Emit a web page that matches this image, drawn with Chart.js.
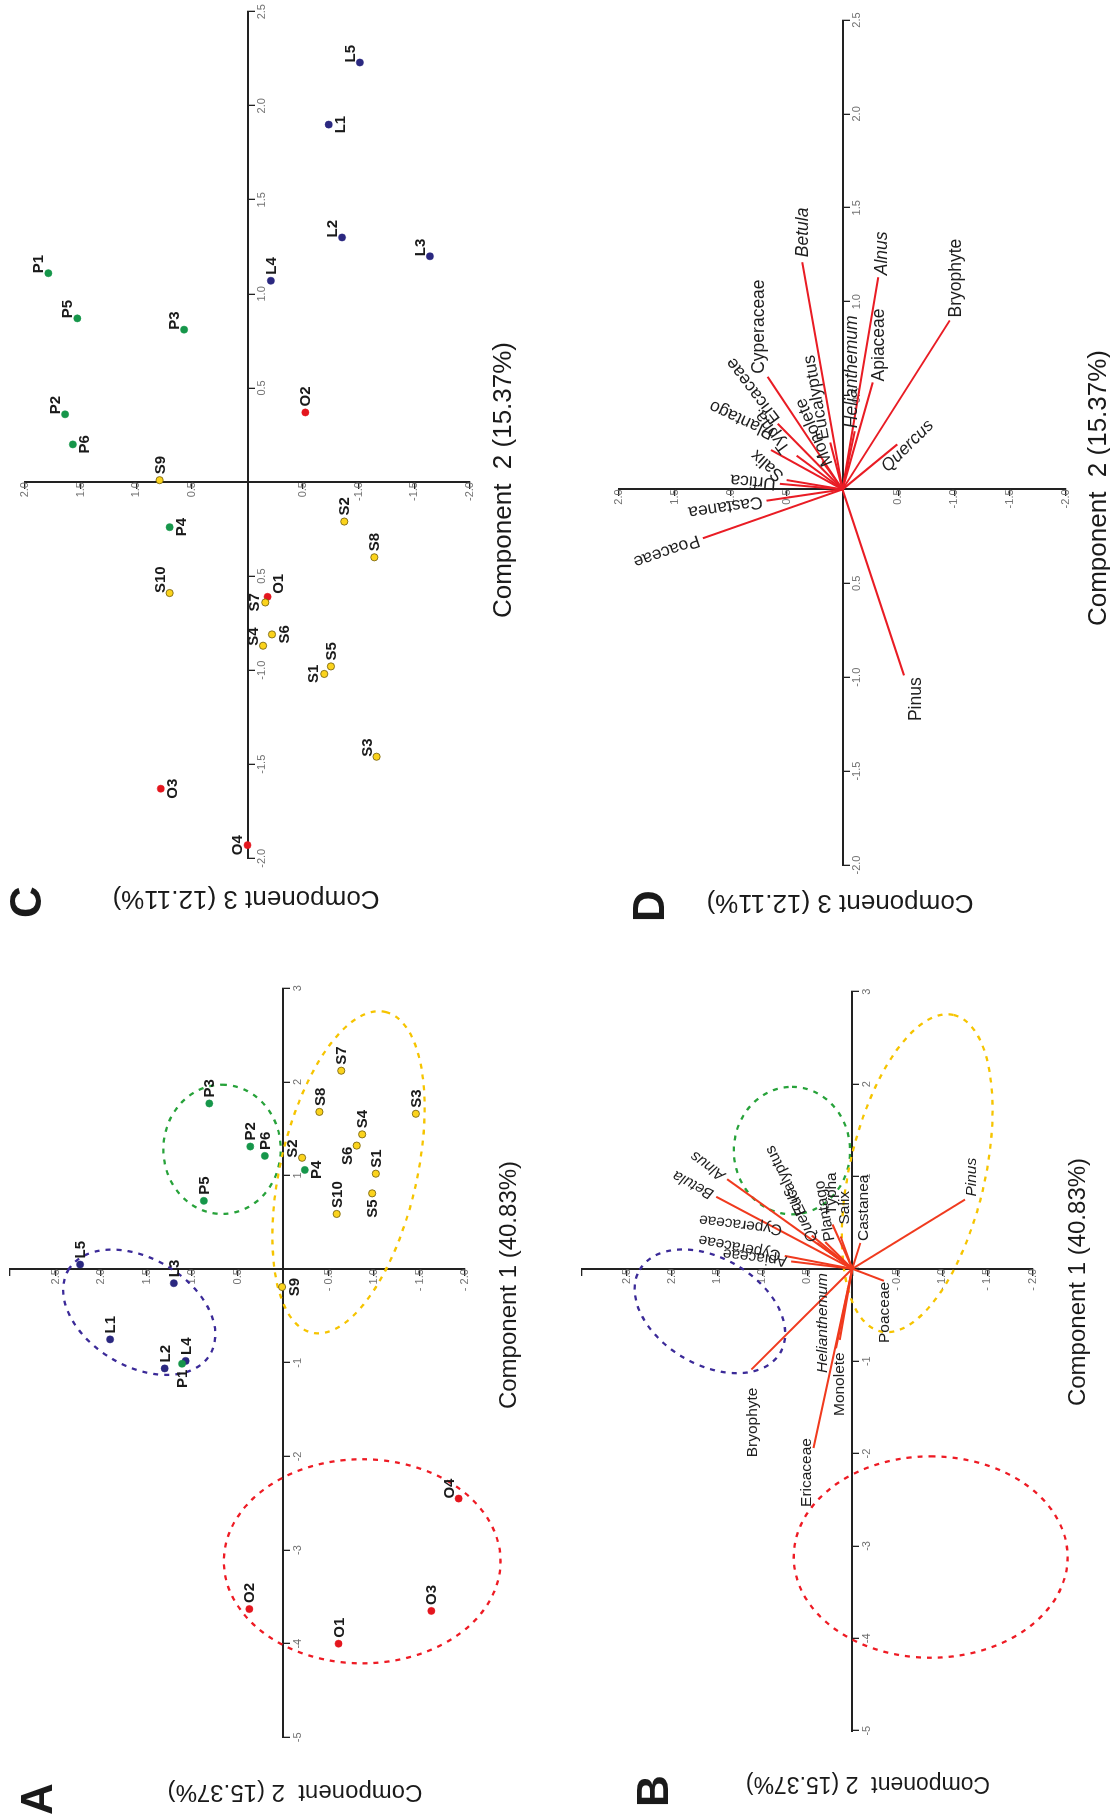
<!DOCTYPE html>
<html>
<head>
<meta charset="utf-8">
<title>PCA biplots</title>
<script src="https://cdn.jsdelivr.net/npm/chart.js@4.4.1/dist/chart.umd.min.js"></script>
<style>
  html, body { margin: 0; padding: 0; background: #fff; }
  body { width: 1110px; height: 1819px; overflow: hidden; position: relative; }
  /* the figure is laid out landscape, then turned a quarter turn to the left */
  #fig { position: absolute; left: 0; top: 0; width: 1819px; height: 1110px;
         transform-origin: 0 0; transform: translateY(1819px) rotate(-90deg);
         font-family: "Liberation Sans", Arial, Helvetica, sans-serif; color: #1a1a1a; }
  #fig canvas { position: absolute; }
  .t { position: absolute; transform: translate(-50%, -50%); white-space: pre; line-height: 1; }
  .v { transform: translate(-50%, -50%) rotate(-90deg); }
  .L { position: absolute; transform: translate(-50%, -50%); font-weight: bold; font-size: 44px; line-height: 1; }
</style>
</head>
<body>
<div id="fig">
  <canvas id="chartA" width="900" height="560" style="left:0;top:0"></canvas>
  <canvas id="chartB" width="900" height="550" style="left:0;top:560px"></canvas>
  <canvas id="chartC" width="919" height="560" style="left:900px;top:0"></canvas>
  <canvas id="chartD" width="919" height="550" style="left:900px;top:560px"></canvas>

  <div class="L" style="left:20px;top:37px">A</div>
  <div class="t" style="left:534px;top:508px;font-size:24px">Component 1 (40.83%)</div>
  <div class="t v" style="left:26px;top:295px;font-size:24px">Component  2 (15.37%)</div>

  <div class="L" style="left:28px;top:653px">B</div>
  <div class="t" style="left:537px;top:1077px;font-size:24px">Component 1 (40.83%)</div>
  <div class="t v" style="left:34px;top:868px;font-size:23px">Component  2 (15.37%)</div>

  <div class="L" style="left:917px;top:26px">C</div>
  <div class="t" style="left:1339px;top:502px;font-size:26px">Component  2 (15.37%)</div>
  <div class="t v" style="left:919px;top:246px;font-size:26px">Component 3 (12.11%)</div>

  <div class="L" style="left:913px;top:649px">D</div>
  <div class="t" style="left:1331px;top:1097px;font-size:26px">Component  2 (15.37%)</div>
  <div class="t v" style="left:915px;top:840px;font-size:26px">Component 3 (12.11%)</div>
</div>

<script>
const FONT = '"Liberation Sans", Arial, Helvetica, sans-serif';

// ---- sample scores ----
const sampleNames = ['L1','L2','L3','L4','L5','P1','P2','P3','P4','P5','P6',
  'S1','S2','S3','S4','S5','S6','S7','S8','S9','S10','O1','O2','O3','O4'];
const sampleGroup = ['L','L','L','L','L','P','P','P','P','P','P',
  'S','S','S','S','S','S','S','S','S','S','O','O','O','O'];
const comp1 = [-0.75,-1.06,-0.15,-0.98,0.05,-1.01,1.31,1.77,1.06,0.73,1.21,
  1.02,1.19,1.66,1.44,0.81,1.32,2.12,1.68,-0.19,0.59,-4.00,-3.63,-3.65,-2.45];
const comp2 = [1.90,1.30,1.20,1.07,2.23,1.11,0.36,0.81,-0.24,0.87,0.20,
  -1.02,-0.21,-1.46,-0.87,-0.98,-0.81,-0.64,-0.40,0.01,-0.59,-0.61,0.37,-1.63,-1.93];
const comp3 = [-0.73,-0.85,-1.64,-0.21,-1.01,1.79,1.64,0.57,0.70,1.53,1.57,
  -0.69,-0.87,-1.16,-0.14,-0.75,-0.22,-0.16,-1.14,0.79,0.70,-0.18,-0.52,0.78,0.00];
const groupNames = ['S','P','L','O'];

// ---- group ellipses in the Component 1 / Component 2 plane ----
const ellipseGroup = ['L','P','S','O'];
const ellipseCx = [-0.46, 1.28, 1.035, -3.12];
const ellipseCy = [1.58, 0.67, -0.72, -0.87];
const ellipseA = [0.90, 0.69, 1.76, 1.09];
const ellipseB = [0.58, 0.645, 0.75, 1.52];
const ellipseAngle = [60, 0, -13.3, 0];

// ---- variable loadings, panel B (Component 1, Component 2) ----
const bTaxa = ['Alnus','Betula','Cyperaceae','Apiaceae','Quercus','Eucalyptus','Plantago','Typha',
  'Salix','Castanea','Pinus','Poaceae','Helianthemum','Monolete','Ericaceae','Bryophyte'];
const bComp1 = [0.97,0.78,0.14,0.08,0.28,0.36,0.29,0.48,0.35,0.28,0.75,-0.13,-0.77,-0.86,-1.94,-1.09];
const bComp2 = [1.39,1.51,0.75,0.68,0.39,0.45,0.30,0.22,0.13,-0.09,-1.25,-0.35,0.14,0.18,0.43,1.12];
const bLoose = ['Cyperaceae'];
const bLooseC1 = [0.425];
const bLooseC2 = [0.78];

// ---- variable loadings, panel D (Component 2, Component 3) ----
const dTaxa = ['Betula','Alnus','Bryophyte','Cyperaceae','Apiaceae','Helianthemum','Eucalyptus','Monolete',
  'Ericaceae','Typha','Plantago','Salix','Urtica','Castanea','Poaceae','Pinus','Quercus'];
const dComp2 = [1.21,1.13,0.90,0.60,0.57,0.31,0.25,0.15,0.35,0.18,0.21,0.05,0.03,-0.06,-0.26,-0.99,0.24];
const dComp3 = [0.36,-0.32,-0.96,0.67,-0.27,-0.11,0.11,0.18,0.58,0.41,0.64,0.50,0.56,0.68,1.25,-0.55,-0.49];

// ---- styles ----
const groupColors = { L: '#2b2880', P: '#16964a', S: '#fbd31c', O: '#e4161e' };
const groupBorders = { L: '#2b2880', P: '#16964a', S: '#6e5b0c', O: '#e4161e' };
const ellipseColors = { L: '#3b2a98', P: '#27a23a', S: '#f6c400', O: '#ee1b24' };
const labelSideA = ['e','e','e','e','e','w','e','e','s','e','e',
  'e','ne','e','e','w','nw','e','e','s','e','e','e','e','ne'];
const labelSideC = ['s','ne','ne','e','ne','ne','ne','ne','s','ne','s',
  'n','e','ne','ne','e','s','n','e','e','ne','se','e','s','n'];
const bLabelStyle = [
  {a:'along', it:true}, {a:'along', it:true}, {a:'along'}, {a:'along'},
  {a:-28, dx:2, dy:-3, it:true}, {a:-26, dx:21, dy:-9}, {a:-10, dx:1, dy:5},
  {a:0, dx:10, dy:-1}, {a:0, dx:12, dy:4}, {a:0, dx:2, dy:3}, {a:0, dx:3, dy:7, it:true},
  {a:0, al:'right', dx:-1, dy:1}, {a:0, dx:-33, dy:-17, it:true}, {a:0, al:'right', dx:-4, dy:4},
  {a:0, al:'right', dx:10, dy:-7}, {a:0, al:'right', dx:-18, dy:1}
];
const dLabelStyle = [
  {a:0, dx:5, dy:1, it:true}, {a:0, dx:2, dy:4, it:true}, {a:0, dx:3, dy:6}, {a:0, dx:3, dy:-8},
  {a:0, dx:1, dy:6}, {a:0, dx:3, dy:-3, it:true}, {a:-10, dx:3, dy:-6}, {a:-23, dx:-4, dy:6},
  {a:-37, dx:2, dy:-1}, {a:-36, dx:4, dy:-10}, {a:-65, dx:16, dy:2}, {a:-48, dx:2, dy:-5},
  {a:'along'}, {a:'along'}, {a:'along'}, {a:0, al:'right', dx:-2, dy:12}, {a:45, dx:-25, dy:-13, it:true}
];
const SIDE = {
  e:  {align:'left',   base:'middle',     dx:6,  dy:1},
  w:  {align:'right',  base:'middle',     dx:-6, dy:1},
  n:  {align:'center', base:'alphabetic', dx:0,  dy:-6},
  s:  {align:'center', base:'top',        dx:0,  dy:5},
  ne: {align:'left',   base:'alphabetic', dx:0,  dy:-5},
  nw: {align:'right',  base:'alphabetic', dx:-1, dy:-5},
  se: {align:'left',   base:'top',        dx:3,  dy:4}
};

// tick label formats
const fmtInt = v => Math.abs(v) < 1e-9 ? '' : String(Math.round(v));
const fmtAB = v => {
  if (Math.abs(v) < 1e-9 || v > 2.9) return '';
  return v < 0 ? '- ' + (-v).toFixed(1) : v.toFixed(1);
};
const fmtCD = v => {
  if (Math.abs(v) < 1e-9) return '';
  if (Math.abs(v + 0.5) < 1e-9) return '0.5';
  return v.toFixed(1);
};

function axis(dir, min, max, step, fmt) {
  return {
    type: 'linear', axis: dir, min: min, max: max,
    position: dir === 'x' ? { y: 0 } : { x: 0 },
    ticks: { stepSize: step, autoSkip: false, maxRotation: 0, minRotation: 0, padding: 2,
             color: '#6f6f6f', font: { size: 11, family: FONT }, callback: fmt },
    grid: { display: true, drawOnChartArea: false, drawTicks: true, tickLength: 6,
            color: '#222', lineWidth: 1.3 },
    border: { display: true, color: '#222', width: 2 }
  };
}

function pointSets(xs, ys) {
  return groupNames.map(g => ({
    label: g,
    data: sampleNames.map((n, i) => ({ x: xs[i], y: ys[i], name: n, g: sampleGroup[i], i: i }))
                     .filter(p => p.g === g),
    backgroundColor: groupColors[g],
    borderColor: groupBorders[g],
    borderWidth: g === 'S' ? 0.8 : 0.5,
    pointRadius: 3.6
  }));
}

function arrowSets(xs, ys, color) {
  return xs.map((x, i) => ({
    label: 'arrow' + i,
    data: [{ x: 0, y: 0 }, { x: x, y: ys[i] }],
    showLine: true, borderColor: color, borderWidth: 2,
    pointRadius: 0, pointHoverRadius: 0
  }));
}

function ellipsePlugin() {
  return {
    id: 'ellipses',
    beforeDatasetsDraw(chart) {
      const { ctx, scales: { x, y } } = chart;
      ctx.save();
      ellipseGroup.forEach((g, i) => {
        const t = ellipseAngle[i] * Math.PI / 180;
        const cx = x.getPixelForValue(ellipseCx[i]), cy = y.getPixelForValue(ellipseCy[i]);
        const ax = x.getPixelForValue(ellipseCx[i] + ellipseA[i] * Math.cos(t)) - cx;
        const ay = y.getPixelForValue(ellipseCy[i] + ellipseA[i] * Math.sin(t)) - cy;
        const bx = x.getPixelForValue(ellipseCx[i] - ellipseB[i] * Math.sin(t)) - cx;
        const by = y.getPixelForValue(ellipseCy[i] + ellipseB[i] * Math.cos(t)) - cy;
        ctx.beginPath();
        ctx.ellipse(cx, cy, Math.hypot(ax, ay), Math.hypot(bx, by), Math.atan2(ay, ax), 0, Math.PI * 2);
        ctx.setLineDash([5, 6]);
        ctx.lineWidth = 2.3;
        ctx.strokeStyle = ellipseColors[g];
        ctx.stroke();
      });
      ctx.restore();
    }
  };
}

function pointLabelPlugin(sides) {
  return {
    id: 'pointLabels',
    afterDatasetsDraw(chart) {
      const ctx = chart.ctx;
      ctx.save();
      ctx.font = 'bold 15px ' + FONT;
      ctx.fillStyle = '#1a1a1a';
      chart.data.datasets.forEach((ds, di) => {
        chart.getDatasetMeta(di).data.forEach((el, j) => {
          const p = ds.data[j];
          const o = SIDE[sides[p.i]];
          ctx.textAlign = o.align;
          ctx.textBaseline = o.base;
          ctx.fillText(p.name, el.x + o.dx, el.y + o.dy);
        });
      });
      ctx.restore();
    }
  };
}

function arrowLabelPlugin(names, xs, ys, styles, size, loose) {
  return {
    id: 'arrowLabels',
    afterDatasetsDraw(chart) {
      const { ctx, scales: { x, y } } = chart;
      const ox = x.getPixelForValue(0), oy = y.getPixelForValue(0);
      names.forEach((n, i) => {
        const s = styles[i];
        const tx = x.getPixelForValue(xs[i]), ty = y.getPixelForValue(ys[i]);
        ctx.save();
        ctx.font = (s.it ? 'italic ' : '') + size + 'px ' + FONT;
        ctx.fillStyle = '#1e1e1e';
        ctx.textBaseline = 'middle';
        if (s.a === 'along') {
          ctx.translate(tx, ty);
          ctx.rotate(Math.atan2(ty - oy, tx - ox));
          ctx.textAlign = 'left';
          ctx.fillText(n, 4, 0);
        } else {
          ctx.translate(tx + s.dx, ty + s.dy);
          ctx.rotate(s.a * Math.PI / 180);
          ctx.textAlign = s.al || 'left';
          ctx.fillText(n, 0, 0);
        }
        ctx.restore();
      });
      if (loose) {
        loose.names.forEach((n, i) => {
          ctx.save();
          ctx.font = size + 'px ' + FONT;
          ctx.fillStyle = '#1e1e1e';
          ctx.textBaseline = 'middle';
          ctx.textAlign = 'left';
          ctx.translate(x.getPixelForValue(loose.xs[i]), y.getPixelForValue(loose.ys[i]));
          ctx.rotate(loose.angle * Math.PI / 180);
          ctx.fillText(n, 0, 0);
          ctx.restore();
        });
      }
    }
  };
}

function makeChart(id, datasets, scales, padding, plugins) {
  return new Chart(document.getElementById(id), {
    type: 'scatter',
    data: { datasets: datasets },
    options: {
      responsive: false, animation: false, devicePixelRatio: 1, events: [],
      layout: { padding: padding },
      scales: scales,
      plugins: { legend: { display: false }, tooltip: { enabled: false } }
    },
    plugins: plugins
  });
}

// A: sample scores, Component 1 vs Component 2
makeChart('chartA', pointSets(comp1, comp2),
  { x: axis('x', -5, 3, 1, fmtInt), y: axis('y', -2, 3, 0.5, fmtAB) },
  { left: 81.7, right: 69.3, top: 10, bottom: 95 },
  [ellipsePlugin(), pointLabelPlugin(labelSideA)]);

// B: loadings over the same ellipses
makeChart('chartB', arrowSets(bComp1, bComp2, '#f03a1e'),
  { x: axis('x', -5, 3, 1, fmtInt), y: axis('y', -2, 3, 0.5, fmtAB) },
  { left: 88.3, right: 72.7, top: 22, bottom: 77.5 },
  [ellipsePlugin(), arrowLabelPlugin(bTaxa, bComp1, bComp2, bLabelStyle, 15.5,
     { names: bLoose, xs: bLooseC1, ys: bLooseC2, angle: -83 })]);

// C: sample scores, Component 2 vs Component 3
makeChart('chartC', pointSets(comp2, comp3),
  { x: axis('x', -2, 2.5, 0.5, fmtCD), y: axis('y', -2, 2, 0.5, fmtCD) },
  { left: 60.7, right: 11.7, top: 25, bottom: 90 },
  [pointLabelPlugin(labelSideC)]);

// D: loadings, Component 2 vs Component 3
makeChart('chartD', arrowSets(dComp2, dComp3, '#e91c24'),
  { x: axis('x', -2, 2.5, 0.5, fmtCD), y: axis('y', -2, 2, 0.5, fmtCD) },
  { left: 54, right: 20, top: 59, bottom: 44 },
  [arrowLabelPlugin(dTaxa, dComp2, dComp3, dLabelStyle, 17.5)]);
</script>
</body>
</html>
